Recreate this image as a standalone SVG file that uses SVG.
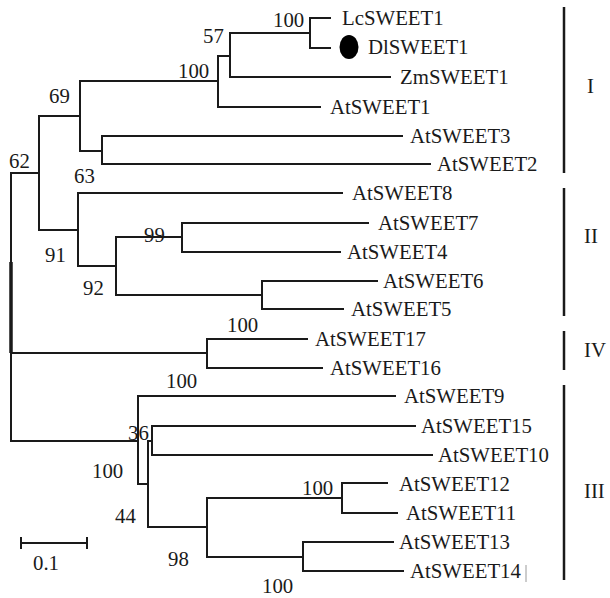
<svg xmlns="http://www.w3.org/2000/svg" width="610" height="598" viewBox="0 0 610 598">
  <style>
    .br { fill: none; stroke: #1a1a1a; stroke-width: 2; stroke-linecap: square; }
    .bar { fill: none; stroke: #1a1a1a; stroke-width: 2.5; }
    text { font-family: "Liberation Serif", "Times New Roman", serif; font-size: 20.8px; fill: #1a1a1a; }
  </style>
  <rect width="610" height="598" fill="#ffffff"/>

  <!-- branches of the phylogenetic tree -->
  <g id="connectors">
    <!-- clade I -->
    <path class="br" d="M330,18 H310 V48 H330"/>
    <path class="br" d="M230,33 H310"/>
    <path class="br" d="M230,33 V77 H390"/>
    <path class="br" d="M218,56 H230"/>
    <path class="br" d="M218,56 V107 H320"/>
    <path class="br" d="M80,81 H218"/>
    <path class="br" d="M80,81 V151 H102"/>
    <path class="br" d="M402,136 H102 V164 H430"/>
    <!-- node 62 -->
    <path class="br" d="M80,116 H39 V230 H78"/>
    <!-- clade II -->
    <path class="br" d="M342,193 H78 V266 H116"/>
    <path class="br" d="M182,237 H116 V295 H262"/>
    <path class="br" d="M368,223 H182 V252 H340"/>
    <path class="br" d="M377,281 H262 V309 H343"/>
    <!-- root -->
    <path class="br" d="M39,173 H11 V441"/>
    <path d="M11,262 V353" stroke="#1a1a1a" stroke-width="3.5"/>
    <!-- clade IV -->
    <path class="br" d="M11,353 H207"/>
    <path class="br" d="M307,339 H207 V368 H322"/>
    <!-- clade III -->
    <path class="br" d="M11,441 H138"/>
    <path class="br" d="M395,396 H138 V484 H148"/>
    <path class="br" d="M152,441 H148 V527 H207"/>
    <path class="br" d="M415,426 H152 V455 H432"/>
    <path class="br" d="M342,498 H207 V557 H303"/>
    <path class="br" d="M387,483 H342 V513 H397"/>
    <path class="br" d="M393,542 H303 V571 H403"/>
  </g>

  <!-- leaves -->
  <g id="leaf-LcSWEET1"><text x="342" y="25">LcSWEET1</text></g>
  <g id="leaf-DlSWEET1">
    <ellipse cx="349" cy="47" rx="9.5" ry="12" fill="#000000"/>
    <text x="368" y="54">DlSWEET1</text>
  </g>
  <g id="leaf-ZmSWEET1"><text x="400" y="84">ZmSWEET1</text></g>
  <g id="leaf-AtSWEET1"><text x="330" y="114">AtSWEET1</text></g>
  <g id="leaf-AtSWEET3"><text x="410" y="143">AtSWEET3</text></g>
  <g id="leaf-AtSWEET2"><text x="437" y="171">AtSWEET2</text></g>
  <g id="leaf-AtSWEET8"><text x="352" y="200">AtSWEET8</text></g>
  <g id="leaf-AtSWEET7"><text x="378" y="230">AtSWEET7</text></g>
  <g id="leaf-AtSWEET4"><text x="347" y="259">AtSWEET4</text></g>
  <g id="leaf-AtSWEET6"><text x="383" y="288">AtSWEET6</text></g>
  <g id="leaf-AtSWEET5"><text x="351" y="316">AtSWEET5</text></g>
  <g id="leaf-AtSWEET17"><text x="315" y="346">AtSWEET17</text></g>
  <g id="leaf-AtSWEET16"><text x="330" y="375">AtSWEET16</text></g>
  <g id="leaf-AtSWEET9"><text x="404" y="403">AtSWEET9</text></g>
  <g id="leaf-AtSWEET15"><text x="421" y="433">AtSWEET15</text></g>
  <g id="leaf-AtSWEET10"><text x="438" y="462">AtSWEET10</text></g>
  <g id="leaf-AtSWEET12"><text x="399" y="491">AtSWEET12</text></g>
  <g id="leaf-AtSWEET11"><text x="406" y="520">AtSWEET11</text></g>
  <g id="leaf-AtSWEET13"><text x="399" y="549">AtSWEET13</text></g>
  <g id="leaf-AtSWEET14">
    <text x="410" y="578">AtSWEET14</text>
    <path d="M526,565 V582" stroke="#9a9a9a" stroke-width="1"/>
  </g>

  <!-- bootstrap values -->
  <g id="bootstrap">
    <text x="273" y="27">100</text>
    <text x="203" y="43">57</text>
    <text x="178" y="78">100</text>
    <text x="49" y="103">69</text>
    <text x="9" y="168">62</text>
    <text x="74" y="183">63</text>
    <text x="45" y="262">91</text>
    <text x="144" y="242">99</text>
    <text x="83" y="295">92</text>
    <text x="227" y="332">100</text>
    <text x="166" y="388">100</text>
    <text x="128" y="440">36</text>
    <text x="92" y="478">100</text>
    <text x="115" y="523">44</text>
    <text x="302" y="495">100</text>
    <text x="168" y="566">98</text>
    <text x="262" y="593">100</text>
  </g>

  <!-- clade brackets -->
  <g id="clade-I">
    <path class="bar" d="M564,7 V173"/>
    <text x="587" y="93">I</text>
  </g>
  <g id="clade-II">
    <path class="bar" d="M564,188 V316"/>
    <text x="584" y="243">II</text>
  </g>
  <g id="clade-IV">
    <path class="bar" d="M564,331 V370"/>
    <text x="584" y="357">IV</text>
  </g>
  <g id="clade-III">
    <path class="bar" d="M564,385 V580"/>
    <text x="584" y="498">III</text>
  </g>

  <!-- scale bar -->
  <g id="scale-bar">
    <path class="br" d="M21,543 H87 M21,538 V548 M87,538 V548" stroke-linecap="butt"/>
    <text x="33" y="570">0.1</text>
  </g>
</svg>
